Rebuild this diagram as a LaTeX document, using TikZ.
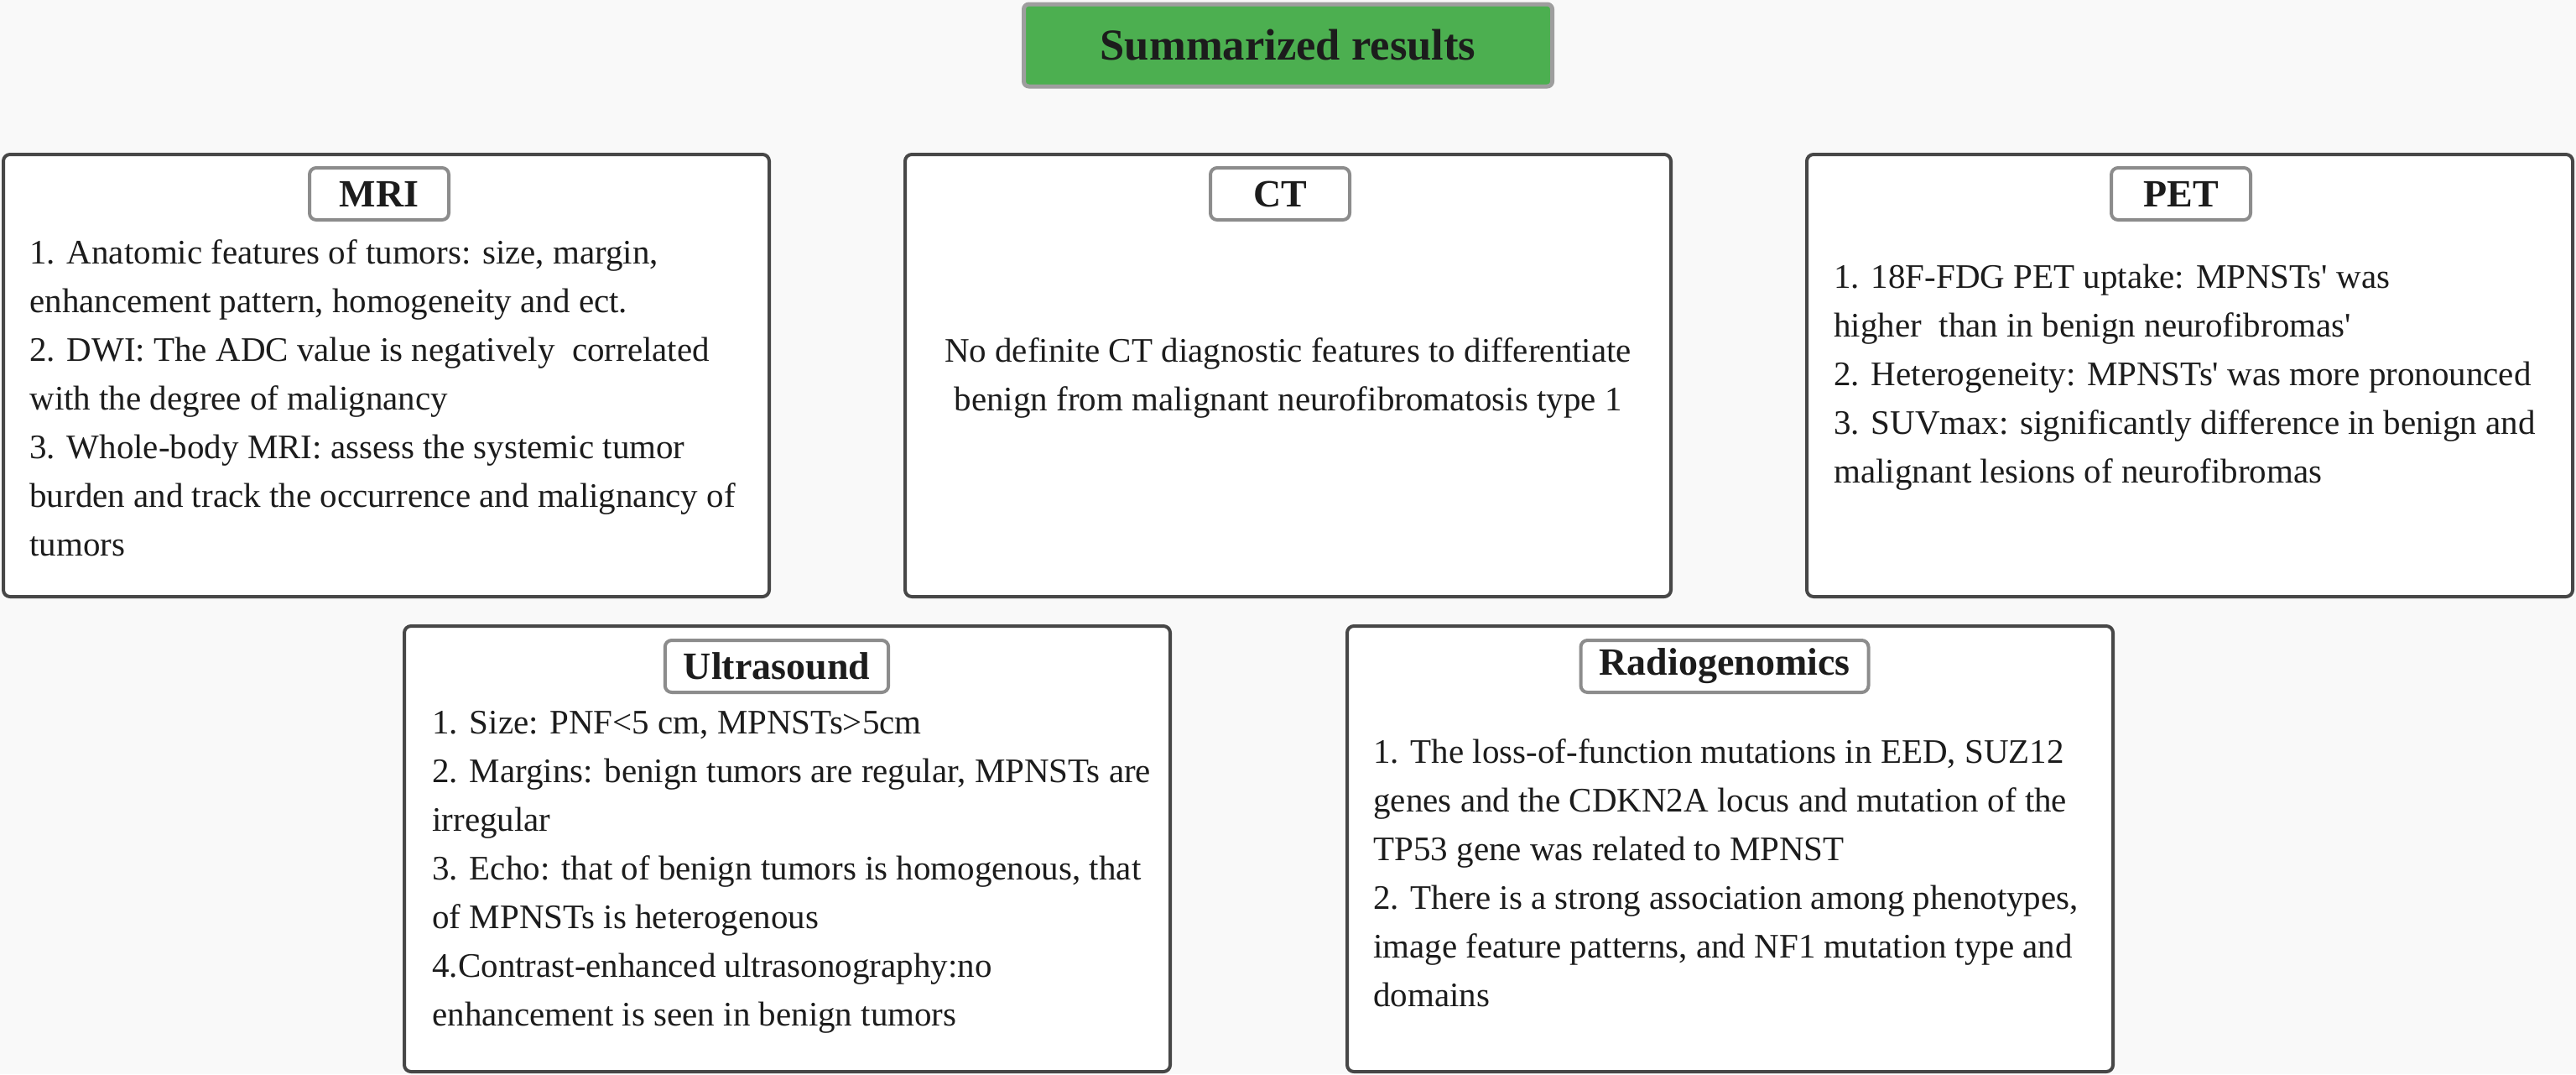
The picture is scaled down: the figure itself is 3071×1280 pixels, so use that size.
\documentclass[tikz,border=0pt]{standalone}
\usepackage{fontspec}
\setmainfont{Liberation Serif}
\definecolor{bggray}{HTML}{F9F9F9}
\definecolor{panelgray}{HTML}{474747}
\definecolor{taggray}{HTML}{8C8C8C}
\definecolor{titlegreen}{HTML}{4CAF50}
\definecolor{titlegray}{HTML}{9E9E9E}
\definecolor{inkdark}{HTML}{1C1C1C}
\begin{document}
\begin{tikzpicture}[x=0.5pt, y=-0.5pt, line join=round, line cap=round,
  panel/.style={draw=panelgray, line width=2pt, fill=white, rounded corners=4pt},
  tag/.style={draw=taggray, line width=2pt, fill=white, rounded corners=4pt,
    minimum width=83pt, minimum height=31pt, inner xsep=11pt, text=inkdark,
    font=\fontsize{23}{27}\selectfont\bfseries},
  title/.style={draw=titlegray, line width=2.5pt, fill=titlegreen, rounded corners=3pt,
    minimum width=315pt, minimum height=49pt, text=inkdark,
    font=\fontsize{26.3}{30}\selectfont\bfseries},
  body/.style={align=left, inner sep=0pt, text=inkdark,
    font=\fontsize{20.5}{29}\selectfont}]
% --- nền ---
\fill[bggray] (0,0) rectangle (3071,1280);
\useasboundingbox (0,0) rectangle (3071,1280);

% --- tiêu đề ---
\node[title] (summary) at (1535.5,54) {Summarized results};

% --- các khung ---
\draw[panel] (4,184) rectangle (917,711);
\draw[panel] (1079,184) rectangle (1992,711);
\draw[panel] (2154,184) rectangle (3067,711);
\draw[panel] (482,746) rectangle (1395,1277);
\draw[panel] (1606,746) rectangle (2519,1277);

% --- nhãn ---
\node[tag] (mri) at (452,231) {MRI};
\node[tag] (ct) at (1526,231) {CT};
\node[tag] (pet) at (2600,231) {PET};
\node[tag] (us) at (926,794) {Ultrasound};
\node[tag] (rg) at (2056,794) {Radiogenomics};

% --- nội dung ---
\node[body, anchor=west] (mritext) at (35,474) {1. Anatomic features of tumors: size, margin,\\
enhancement pattern, homogeneity and ect.\\
2. DWI: The ADC value is negatively\ \ correlated\\
with the degree of malignancy\\
3. Whole-body MRI: assess the systemic tumor\\
burden and track the occurrence and malignancy of\\
tumors};
\node[body, align=center] (cttext) at (1535.5,450) {No definite CT diagnostic features to differentiate\\
benign from malignant neurofibromatosis type 1};
\node[body, anchor=west] (pettext) at (2186,450) {1. 18F-FDG PET uptake: MPNSTs\textquotesingle{} was\\
higher\ \ than in benign neurofibromas\textquotesingle\\
2. Heterogeneity: MPNSTs\textquotesingle{} was more pronounced\\
3. SUVmax: significantly difference in benign and\\
malignant lesions of neurofibromas};
\node[body, anchor=west] (ustext) at (515,1039) {1. Size: PNF<5 cm, MPNSTs>5cm\\
2. Margins: benign tumors are regular, MPNSTs are\\
irregular\\
3. Echo: that of benign tumors is homogenous, that\\
of MPNSTs is heterogenous\\
4.Contrast-enhanced ultrasonography:no\\
enhancement is seen in benign tumors};
\node[body, anchor=west] (rgtext) at (1637,1040) {1. The loss-of-function mutations in EED, SUZ12\\
genes and the CDKN2A locus and mutation of the\\
TP53 gene was related to MPNST\\
2. There is a strong association among phenotypes,\\
image feature patterns, and NF1 mutation type and\\
domains};
\end{tikzpicture}
\end{document}
